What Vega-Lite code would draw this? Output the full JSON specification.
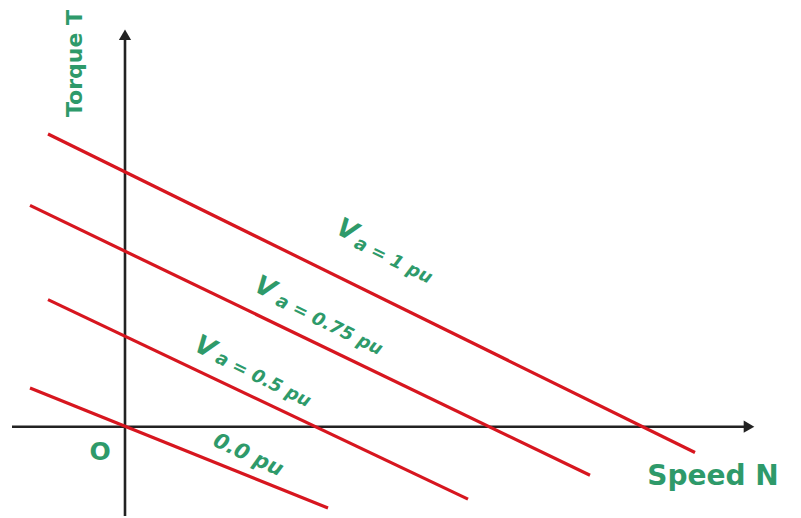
{
  "$schema": "https://vega.github.io/schema/vega-lite/v6.json",
  "width": 801,
  "height": 518,
  "autosize": {"type": "fit", "contains": "padding"},
  "padding": 0,
  "background": "white",
  "config": {"view": {"stroke": null}},
  "datasets": {
    "axes": [
      {"axis": "N", "x": -1.13, "y": 0, "x2": 6.22, "y2": 0},
      {"axis": "T", "x": 0, "y": -0.9, "x2": 0, "y2": 3.95}
    ],
    "arrows": [
      {"axis": "N", "x": 6.24, "y": 0},
      {"axis": "T", "x": 0, "y": 3.95}
    ],
    "lines": [
      {"series": "Va = 1 pu", "N": -0.77, "T": 2.95},
      {"series": "Va = 1 pu", "N": 5.70, "T": -0.26},
      {"series": "Va = 0.75 pu", "N": -0.95, "T": 2.23},
      {"series": "Va = 0.75 pu", "N": 4.65, "T": -0.49},
      {"series": "Va = 0.5 pu", "N": -0.77, "T": 1.28},
      {"series": "Va = 0.5 pu", "N": 3.43, "T": -0.73},
      {"series": "0.0 pu", "N": -0.95, "T": 0.39},
      {"series": "0.0 pu", "N": 2.03, "T": -0.82}
    ],
    "vlabels": [
      {"text": "V", "N": 2.22, "T": 1.98},
      {"text": "V", "N": 1.40, "T": 1.40},
      {"text": "V", "N": 0.80, "T": 0.80}
    ],
    "sublabels": [
      {"text": "a = 1 pu", "N": 2.68, "T": 1.67},
      {"text": "a = 0.75 pu", "N": 2.04, "T": 1.02},
      {"text": "a = 0.5 pu", "N": 1.38, "T": 0.47}
    ],
    "zerolabel": [{"text": "0.0 pu", "N": 1.23, "T": -0.29}],
    "speed": [{"text": "Speed N", "N": 5.88, "T": -0.51}],
    "torque": [{"text": "Torque T", "N": -0.50, "T": 3.66}],
    "origin": [{"text": "O", "N": -0.25, "T": -0.26}]
  },
  "layer": [
    {
      "data": {"name": "axes"},
      "mark": {"type": "rule", "color": "#222222", "strokeWidth": 2.6},
      "encoding": {
        "x": {"field": "x", "type": "quantitative", "scale": {"domain": [-1.25, 6.76], "nice": false, "zero": false}, "axis": null},
        "y": {"field": "y", "type": "quantitative", "scale": {"domain": [-0.88, 4.30], "nice": false, "zero": false}, "axis": null},
        "x2": {"field": "x2"},
        "y2": {"field": "y2"}
      }
    },
    {
      "data": {"name": "arrows"},
      "mark": {"type": "point", "filled": true, "color": "#222222", "opacity": 1, "size": 150},
      "encoding": {
        "x": {"field": "x", "type": "quantitative"},
        "y": {"field": "y", "type": "quantitative"},
        "shape": {"field": "axis", "type": "nominal", "scale": {"domain": ["N", "T"], "range": ["triangle-right", "triangle-up"]}, "legend": null}
      }
    },
    {
      "data": {"name": "lines"},
      "mark": {"type": "line", "color": "#d7161f", "strokeWidth": 3.2},
      "encoding": {
        "x": {"field": "N", "type": "quantitative"},
        "y": {"field": "T", "type": "quantitative"},
        "detail": {"field": "series", "type": "nominal"}
      }
    },
    {
      "data": {"name": "vlabels"},
      "mark": {"type": "text", "font": "DejaVu Sans", "fontWeight": "bold", "fontStyle": "italic", "fontSize": 26, "angle": 26, "align": "center", "baseline": "middle", "color": "#2e9a6a"},
      "encoding": {
        "x": {"field": "N", "type": "quantitative"},
        "y": {"field": "T", "type": "quantitative"},
        "text": {"field": "text"}
      }
    },
    {
      "data": {"name": "sublabels"},
      "mark": {"type": "text", "font": "DejaVu Sans", "fontWeight": "bold", "fontStyle": "italic", "fontSize": 18, "angle": 26, "align": "center", "baseline": "middle", "color": "#2e9a6a"},
      "encoding": {
        "x": {"field": "N", "type": "quantitative"},
        "y": {"field": "T", "type": "quantitative"},
        "text": {"field": "text"}
      }
    },
    {
      "data": {"name": "zerolabel"},
      "mark": {"type": "text", "font": "DejaVu Sans", "fontWeight": "bold", "fontStyle": "italic", "fontSize": 21, "angle": 25, "align": "center", "baseline": "middle", "color": "#2e9a6a"},
      "encoding": {
        "x": {"field": "N", "type": "quantitative"},
        "y": {"field": "T", "type": "quantitative"},
        "text": {"field": "text"}
      }
    },
    {
      "data": {"name": "speed"},
      "mark": {"type": "text", "font": "DejaVu Sans", "fontWeight": "bold", "fontSize": 28, "align": "center", "baseline": "middle", "color": "#2e9a6a"},
      "encoding": {
        "x": {"field": "N", "type": "quantitative"},
        "y": {"field": "T", "type": "quantitative"},
        "text": {"field": "text"}
      }
    },
    {
      "data": {"name": "torque"},
      "mark": {"type": "text", "font": "DejaVu Sans", "fontWeight": "bold", "fontSize": 22, "angle": 270, "align": "center", "baseline": "middle", "color": "#2e9a6a"},
      "encoding": {
        "x": {"field": "N", "type": "quantitative"},
        "y": {"field": "T", "type": "quantitative"},
        "text": {"field": "text"}
      }
    },
    {
      "data": {"name": "origin"},
      "mark": {"type": "text", "font": "DejaVu Sans", "fontWeight": "bold", "fontSize": 25, "align": "center", "baseline": "middle", "color": "#2e9a6a"},
      "encoding": {
        "x": {"field": "N", "type": "quantitative"},
        "y": {"field": "T", "type": "quantitative"},
        "text": {"field": "text"}
      }
    }
  ]
}
